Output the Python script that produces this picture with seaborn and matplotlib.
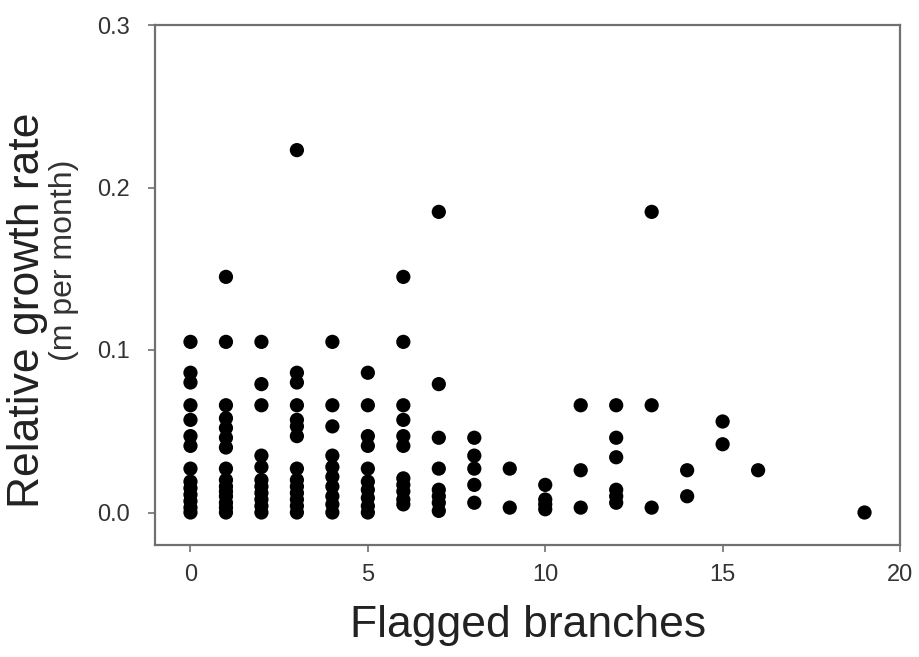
import matplotlib
matplotlib.use("Agg")
import matplotlib.pyplot as plt
import seaborn as sns
import pandas as pd

# Flagged branches (x) and relative growth rate values (y) per column
x0 = [0.105, 0.086, 0.080, 0.066, 0.057, 0.047, 0.041, 0.027, 0.019, 0.015, 0.011, 0.007, 0.003, 0.0]
x1 = [0.145, 0.105, 0.066, 0.058, 0.052, 0.046, 0.040, 0.027, 0.020, 0.016, 0.013, 0.010, 0.006, 0.003, 0.0]
x2 = [0.105, 0.079, 0.066, 0.035, 0.028, 0.020, 0.016, 0.012, 0.008, 0.004, 0.0]
x3 = [0.223, 0.086, 0.080, 0.066, 0.057, 0.053, 0.047, 0.027, 0.020, 0.016, 0.012, 0.008, 0.004, 0.0]
x4 = [0.105, 0.066, 0.053, 0.035, 0.028, 0.022, 0.016, 0.010, 0.005, 0.0]
x5 = [0.086, 0.066, 0.047, 0.041, 0.027, 0.019, 0.014, 0.009, 0.004, 0.0]
x6 = [0.145, 0.105, 0.066, 0.057, 0.047, 0.041, 0.021, 0.017, 0.013, 0.008, 0.005]
x7 = [0.185, 0.079, 0.046, 0.027, 0.014, 0.010, 0.006, 0.001]
x8 = [0.046, 0.035, 0.027, 0.017, 0.006]
x9 = [0.027, 0.003]
x10 = [0.017, 0.008, 0.005, 0.002]
x11 = [0.066, 0.026, 0.003]
x12 = [0.066, 0.046, 0.034, 0.014, 0.010, 0.006]
x13 = [0.185, 0.066, 0.003]
x14 = [0.026, 0.010]
x15 = [0.056, 0.042]
x16 = [0.026]
x19 = [0.0]

columns = {0: x0, 1: x1, 2: x2, 3: x3, 4: x4, 5: x5, 6: x6, 7: x7, 8: x8,
           9: x9, 10: x10, 11: x11, 12: x12, 13: x13, 14: x14, 15: x15,
           16: x16, 19: x19}

rows = [(k, v) for k, vals in columns.items() for v in vals]
df = pd.DataFrame(rows, columns=["branches", "rate"])

sns.set_theme(style="white")
plt.rcParams['font.family'] = ['Liberation Sans', 'DejaVu Sans']

fig = plt.figure(figsize=(9.2, 6.57), dpi=100)
ax = fig.add_axes([155/920, 1 - 545/657, (900 - 155)/920, (545 - 25)/657])

sns.scatterplot(data=df, x="branches", y="rate", ax=ax, color="black",
                s=105, edgecolor="none", linewidth=0, legend=False)

ax.set_xlim(-1, 20)
ax.set_ylim(-0.02, 0.3)
ax.set_xticks([0, 5, 10, 15, 20])
ax.set_yticks([0.0, 0.1, 0.2, 0.3])
ax.set_yticklabels(["0.0", "0.1", "0.2", "0.3"])

for sp in ax.spines.values():
    sp.set_color("#707070")
    sp.set_linewidth(1.6)
    sp.set_visible(True)

ax.tick_params(axis="both", direction="out", length=5, width=1.2,
               color="#707070", labelsize=17, labelcolor="#333333",
               bottom=True, left=True)
ax.tick_params(axis="x", pad=9)
ax.tick_params(axis="y", pad=13)

ax.set_xlabel("")
ax.set_ylabel("")

fig.text(528/920, 1 - 637/657, "Flagged branches", fontsize=32,
         color="#222222", ha="center", va="baseline")
fig.text(28/920, 1 - 310/657, "Relative growth rate", rotation=90,
         fontsize=32, color="#222222", ha="center", va="center")
fig.text(64/920, 1 - 260/657, "(m per month)", rotation=90,
         fontsize=23, color="#333333", ha="center", va="center")

fig.savefig("out.png", dpi=100)
